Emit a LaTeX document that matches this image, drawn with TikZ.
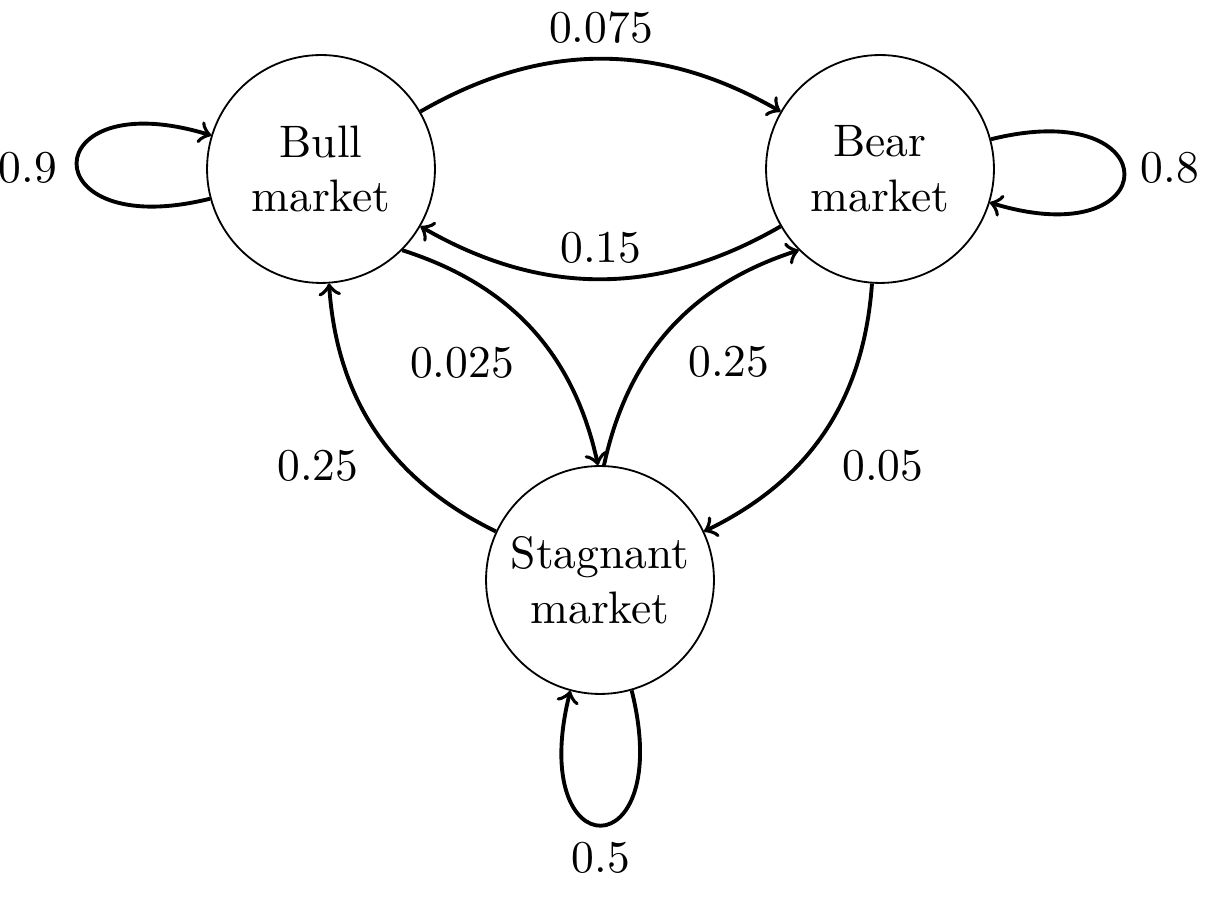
\documentclass[tikz,border=0pt]{standalone}
\usetikzlibrary{arrows}
\begin{document}
\begin{tikzpicture}[x=0.2198pt,y=0.2198pt,
  state/.style={draw,circle,line width=0.4pt,minimum size=50.1pt,inner sep=0pt,align=center},
  edge/.style={->,line width=0.85pt},
  lbl/.style={inner sep=0pt}]
\useasboundingbox (0,0) rectangle (1218,-910);
\node[state] (bull) at (321,-169) {Bull\\market};
\node[state] (bear) at (880,-169) {Bear\\market};
\node[state] (stag) at (600,-580) {Stagnant\\market};

\node[lbl] (l075) at (601,-28) {0.075};
\node[lbl] (l15) at (601,-248) {0.15};
\node[lbl] (l025) at (462,-363) {0.025};
\node[lbl] (l25r) at (729,-362) {0.25};
\node[lbl] (l25l) at (318,-466) {0.25};
\node[lbl] (l05) at (883,-466) {0.05};
\node[lbl] (l09) at (28,-168) {0.9};
\node[lbl] (l08) at (1170,-168) {0.8};
\node[lbl] (l5) at (601,-858) {0.5};

\draw[edge] (bull.30) to[bend left=30] (bear.150);
\draw[edge] (bear.210) to[bend left=30] (bull.330);
\draw[edge] (bull.315) to[bend left=30] (stag.91);
\draw[edge] (stag.88) to[bend left=30] (bear.225);
\draw[edge] (stag.155) to[bend left=30] (bull.274);
\draw[edge] (bear.266) to[bend left=30] (stag.25);

\draw[edge] (bull.195) .. controls +(194:185) and +(163:185) .. (bull.163);
\draw[edge] (bear.15) .. controls +(14:185) and +(-17:185) .. (bear.-17);
\draw[edge] (stag.286) .. controls +(284:185) and +(256:185) .. (stag.255);
\end{tikzpicture}
\end{document}
